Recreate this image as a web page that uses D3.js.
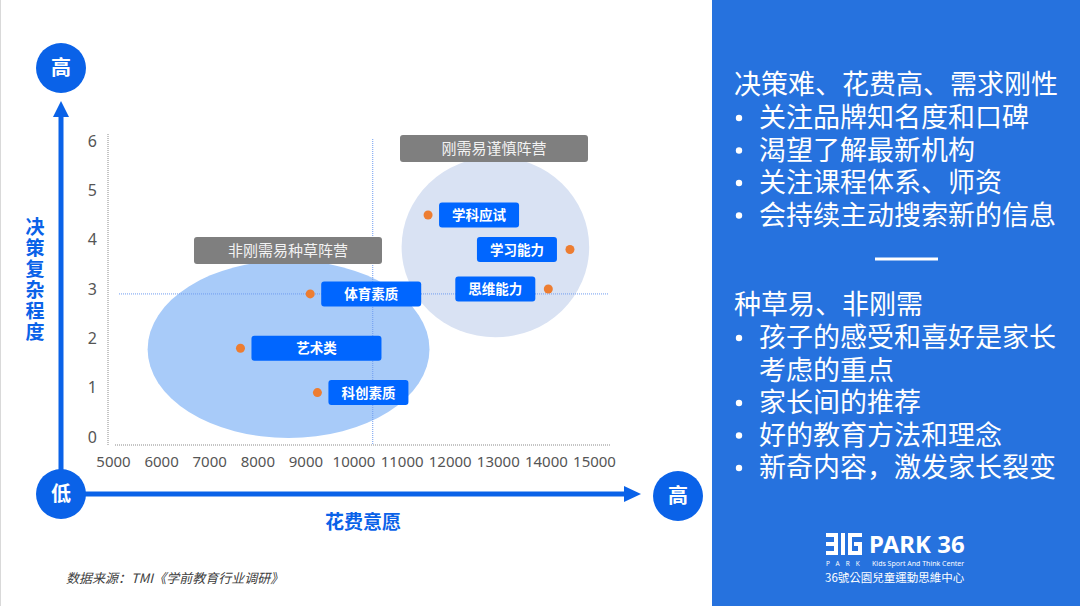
<!DOCTYPE html>
<html>
<head>
<meta charset="utf-8">
<script src="https://cdn.jsdelivr.net/npm/d3@7"></script>
<style>
  html, body { margin: 0; padding: 0; background: #fff; }
  svg { display: block; font-family: "Noto Sans CJK SC", "Noto Sans", sans-serif; }
</style>
</head>
<body>
<div class="chart"></div>
<script>
// ---- data ----
const names = ['体育素质', '艺术类', '科创素质', '学科应试', '学习能力', '思维能力'];
const spend = [9100, 7650, 9250, 11550, 14500, 14050];
const complexity = [2.9, 1.8, 0.9, 4.5, 3.8, 3.0];
const labelSide = ['right', 'right', 'right', 'right', 'left', 'left'];
const labelWidth = [100, 130, 80, 80, 80, 80];

const groupNames = ['非刚需易种草阵营', '刚需易谨慎阵营'];
const groupCx = [8650, 12950];
const groupCy = [1.78, 3.85];
const groupRx = [2930, 1950];
const groupRy = [1.8, 1.83];
const groupFill = ['#a8cbf9', '#d9e2f3'];

const xTicks = [5000, 6000, 7000, 8000, 9000, 10000, 11000, 12000, 13000, 14000, 15000];
const yTicks = [0, 1, 2, 3, 4, 5, 6];
const avgSpend = 10400, avgComplexity = 2.9;

const panelHeads = ['决策难、花费高、需求刚性', '种草易、非刚需'];
const panelItems = [
  [['关注品牌知名度和口碑'], ['渴望了解最新机构'], ['关注课程体系、师资'], ['会持续主动搜索新的信息']],
  [['孩子的感受和喜好是家长', '考虑的重点'], ['家长间的推荐'], ['好的教育方法和理念'], ['新奇内容，激发家长裂变']]
];

const blue = '#0a62e8';
const W = 1080, H = 606;

const svg = d3.select('.chart').append('svg')
  .attr('width', W).attr('height', H);

// left border
svg.append('line').attr('x1', 0.5).attr('x2', 0.5).attr('y1', 0).attr('y2', H)
  .attr('stroke', '#d9d9d9');

// scales
const x = d3.scaleLinear().domain([5000, 15000]).range([113, 594]);
const y = d3.scaleLinear().domain([0, 6]).range([437, 141]);

// group ellipses
svg.selectAll('ellipse.group')
  .data(groupNames)
  .enter().append('ellipse')
    .attr('class', 'group')
    .attr('cx', (d, i) => x(groupCx[i]))
    .attr('cy', (d, i) => y(groupCy[i]))
    .attr('rx', (d, i) => x(groupCx[i] + groupRx[i]) - x(groupCx[i]))
    .attr('ry', (d, i) => y(0) - y(groupRy[i]))
    .style('fill', (d, i) => groupFill[i]);

// frame lines (dotted)
svg.append('line')
  .attr('x1', 108).attr('x2', 108).attr('y1', 134).attr('y2', 445)
  .attr('stroke', '#8a8a8a').attr('stroke-width', 1).attr('stroke-dasharray', '1,1');
svg.append('line')
  .attr('x1', 115).attr('x2', 610).attr('y1', 445).attr('y2', 445)
  .attr('stroke', '#8a8a8a').attr('stroke-width', 1).attr('stroke-dasharray', '1,1');

// quadrant lines
svg.append('line')
  .attr('x1', x(avgSpend)).attr('x2', x(avgSpend)).attr('y1', 139).attr('y2', 445)
  .attr('stroke', '#6f9cf0').attr('stroke-width', 1).attr('stroke-dasharray', '1,1');
svg.append('line')
  .attr('x1', 119).attr('x2', 609).attr('y1', y(avgComplexity)).attr('y2', y(avgComplexity))
  .attr('stroke', '#6f9cf0').attr('stroke-width', 1).attr('stroke-dasharray', '1,1');

// axes ticks (labels only)
const xAxis = svg.append('g')
  .attr('transform', 'translate(0, 445)')
  .call(d3.axisBottom(x).tickValues(xTicks).tickSize(0).tickPadding(11).tickFormat(d3.format('d')));
xAxis.select('.domain').remove();
xAxis.selectAll('text')
  .style('font-family', '"Noto Sans", sans-serif')
  .style('font-size', '15px').style('fill', '#555');

const yAxis = svg.append('g')
  .attr('transform', 'translate(97, 0)')
  .call(d3.axisLeft(y).tickValues(yTicks).tickSize(0).tickPadding(0).tickFormat(d3.format('d')));
yAxis.select('.domain').remove();
yAxis.selectAll('text')
  .style('font-family', '"Noto Sans", sans-serif')
  .style('font-size', '16px').style('fill', '#555');

// group title boxes
const groupBox = [
  {x: 194, y: 237, w: 188},
  {x: 400, y: 135, w: 188}
];
groupNames.forEach((g, i) => {
  const b = groupBox[i];
  svg.append('rect').attr('x', b.x).attr('y', b.y).attr('width', b.w).attr('height', 27)
    .attr('rx', 3).style('fill', '#7f7f7f');
  svg.append('text').attr('x', b.x + b.w / 2).attr('y', b.y + 14).attr('dy', '0.35em')
    .attr('text-anchor', 'middle').style('font-size', '15px').style('fill', '#f2f2f2')
    .text(g);
});

// dots
svg.selectAll('circle.dot')
  .data(names)
  .enter().append('circle')
    .attr('class', 'dot')
    .attr('cx', (d, i) => x(spend[i]))
    .attr('cy', (d, i) => y(complexity[i]))
    .attr('r', 4.5)
    .style('fill', '#ed7d31');

// item labels
const labels = svg.selectAll('g.lab')
  .data(names)
  .enter().append('g')
    .attr('class', 'lab')
    .attr('transform', (d, i) => {
      const cx = x(spend[i]), cy = y(complexity[i]);
      const bx = labelSide[i] === 'right' ? cx + 11 : cx - 13 - labelWidth[i];
      return `translate(${bx}, ${cy - 12.5})`;
    });
labels.append('rect')
  .attr('width', (d, i) => labelWidth[i]).attr('height', 25).attr('rx', 3)
  .style('fill', '#0066ff');
labels.append('text')
  .attr('x', (d, i) => labelWidth[i] / 2).attr('y', 13).attr('dy', '0.35em')
  .attr('text-anchor', 'middle')
  .style('font-size', '13.5px').style('font-weight', 'bold').style('fill', '#fff')
  .text(d => d);

// big axis arrows
svg.append('line').attr('x1', 61).attr('x2', 61).attr('y1', 470).attr('y2', 112)
  .attr('stroke', blue).attr('stroke-width', 5);
svg.append('path').attr('d', 'M53,117 L61,101 L69,117 Z').style('fill', blue);
svg.append('line').attr('x1', 61).attr('x2', 628).attr('y1', 494).attr('y2', 494)
  .attr('stroke', blue).attr('stroke-width', 5);
svg.append('path').attr('d', 'M624,486 L641,494 L624,502 Z').style('fill', blue);

const bubbles = [{cx: 61, cy: 68, t: '高'}, {cx: 61, cy: 494, t: '低'}, {cx: 678, cy: 496, t: '高'}];
bubbles.forEach(b => {
  svg.append('circle').attr('cx', b.cx).attr('cy', b.cy).attr('r', 25).style('fill', blue);
  svg.append('text').attr('x', b.cx).attr('y', b.cy).attr('dy', '0.35em')
    .attr('text-anchor', 'middle').style('font-size', '20px').style('font-weight', 'bold')
    .style('fill', '#fff').text(b.t);
});

// axis titles
svg.append('text').attr('x', 35).attr('y', 217)
  .style('writing-mode', 'vertical-rl').style('text-orientation', 'upright')
  .style('letter-spacing', '2px')
  .style('font-size', '19px').style('font-weight', 'bold').style('fill', blue)
  .text('决策复杂程度');
svg.append('text').attr('x', 363).attr('y', 529).attr('text-anchor', 'middle')
  .style('font-size', '19px').style('font-weight', 'bold').style('fill', blue)
  .text('花费意愿');

// source note
svg.append('text').attr('x', 66).attr('y', 583)
  .style('font-size', '13px').style('font-style', 'italic').style('fill', '#404040')
  .text('数据来源：TMI《学前教育行业调研》');

// right panel
svg.append('rect').attr('x', 712).attr('y', 0).attr('width', W - 712).attr('height', H)
  .style('fill', '#2672de');

const heads = [94, 314];
panelHeads.forEach((h, k) => {
  svg.append('text').attr('x', 734).attr('y', heads[k])
    .style('font-size', '27px').style('fill', '#fff').text(h);
  let yy = heads[k] + 33;
  panelItems[k].forEach(item => {
    svg.append('circle').attr('cx', 739).attr('cy', yy - 9).attr('r', 3.2)
      .style('fill', '#fff');
    item.forEach(line => {
      svg.append('text').attr('x', 759).attr('y', yy)
        .style('font-size', '27px').style('fill', '#fff').text(line);
      yy += 32.5;
    });
  });
});
svg.append('line').attr('x1', 875).attr('x2', 938).attr('y1', 259).attr('y2', 259)
  .attr('stroke', '#fff').attr('stroke-width', 3);

// logo
const logo = svg.append('g').attr('fill', '#fff');
[[826, 533], [826, 542], [826, 551]].forEach(p => {
  logo.append('rect').attr('x', p[0]).attr('y', p[1]).attr('width', 12).attr('height', 4);
});
logo.append('rect').attr('x', 834).attr('y', 533).attr('width', 4).attr('height', 22);
logo.append('rect').attr('x', 841).attr('y', 533).attr('width', 4).attr('height', 22);
logo.append('rect').attr('x', 848).attr('y', 533).attr('width', 14).attr('height', 4);
logo.append('rect').attr('x', 848).attr('y', 533).attr('width', 4).attr('height', 22);
logo.append('rect').attr('x', 848).attr('y', 551).attr('width', 14).attr('height', 4);
logo.append('rect').attr('x', 858).attr('y', 542).attr('width', 4).attr('height', 13);
logo.append('rect').attr('x', 854).attr('y', 542).attr('width', 8).attr('height', 4);
logo.append('text').attr('x', 869).attr('y', 553)
  .style('font-family', '"Noto Sans", sans-serif')
  .style('font-size', '24px').style('font-weight', 'bold').text('PARK 36');
logo.append('text').attr('x', 826).attr('y', 566)
  .style('font-family', '"Noto Sans", sans-serif')
  .style('font-size', '6.5px').style('letter-spacing', '6px').text('PARK');
logo.append('text').attr('x', 872).attr('y', 566)
  .style('font-family', '"Noto Sans", sans-serif')
  .style('font-size', '7px').text('Kids Sport And Think Center');
logo.append('text').attr('x', 825).attr('y', 582)
  .style('font-family', '"Noto Sans CJK TC", sans-serif')
  .style('font-size', '11.5px').text('36號公園兒童運動思維中心');
</script>
</body>
</html>
